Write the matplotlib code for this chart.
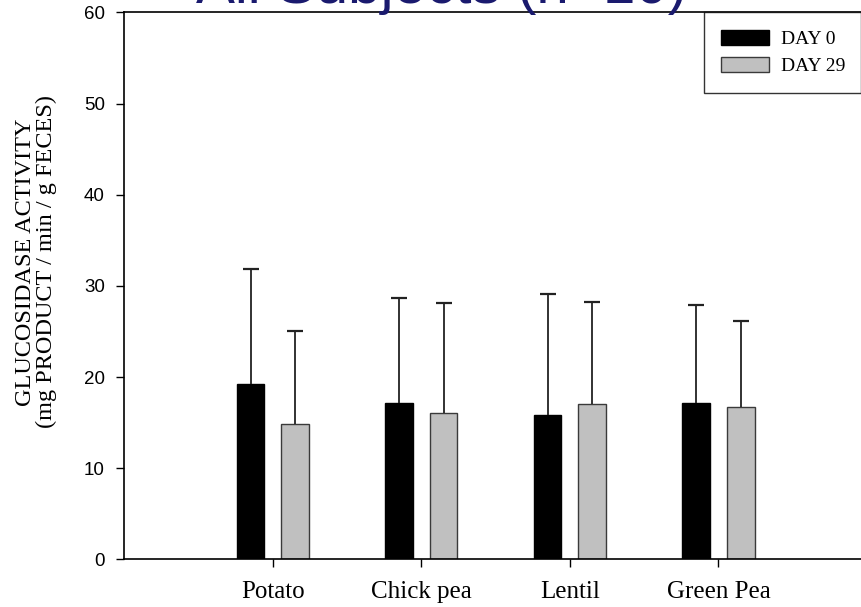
import numpy as np
import matplotlib
matplotlib.use("Agg")
import matplotlib.pyplot as plt

# data
foods = ['Potato', 'Chick pea', 'Lentil', 'Green Pea']
day0 = [19.2, 17.2, 15.8, 17.2]
day0_err = [12.6, 11.5, 13.3, 10.7]
day29 = [14.9, 16.1, 17.1, 16.7]
day29_err = [10.2, 12.0, 11.1, 9.4]

fig = plt.figure(figsize=(8.62, 6.07), dpi=100)
ax = fig.add_axes([0.1442, 0.0783, 0.8616, 0.9014])

x = np.arange(1, len(foods) + 1)
w = 0.186
off = 0.15
ekw = dict(ecolor='#222222', elinewidth=1.3, capthick=1.6)

b0 = ax.bar(x - off, day0, w, color='black', edgecolor='black', linewidth=1,
            yerr=[np.zeros(len(day0)), day0_err], capsize=6, error_kw=ekw,
            label='DAY 0', zorder=2)
b1 = ax.bar(x + off, day29, w, color='#c0c0c0', edgecolor='#3a3a3a', linewidth=1,
            yerr=[np.zeros(len(day29)), day29_err], capsize=6, error_kw=ekw,
            label='DAY 29', zorder=2)

# only the upper whisker is drawn, hide the lower caps
for b in (b0, b1):
    caps = b.errorbar.lines[1]
    caps[0].set_visible(False)

ax.set_xlim(0, 5)
ax.set_ylim(0, 60)
ax.set_xticks(x)
ax.set_xticklabels(foods, fontfamily='Liberation Serif', fontsize=18)
ax.set_yticks(np.arange(0, 61, 10))
ax.tick_params(axis='y', labelsize=13.5, length=6, width=1, pad=8)
ax.tick_params(axis='x', length=5.5, width=1, pad=10)
for t in ax.get_yticklabels():
    t.set_fontfamily('Liberation Sans')

ax.spines['right'].set_visible(False)
for s in ['left', 'bottom', 'top']:
    ax.spines[s].set_linewidth(1.2)

fig.text(36 / 862, 1 - 262 / 607,
         'GLUCOSIDASE ACTIVITY\n(mg PRODUCT / min / g FECES)',
         rotation=90, ha='center', va='center', multialignment='center',
         fontfamily='Liberation Serif', fontsize=17.5, linespacing=0.95)

# title is clipped at the top edge in the original
fig.text(441.5 / 862, 1 - 3 / 607, 'All Subjects (n=10)',
         ha='center', va='baseline', fontfamily='Liberation Sans',
         fontsize=42, color='#1a1a6e')

leg = ax.legend(loc='upper left', mode='expand',
                bbox_to_anchor=(704 / 862, 1 - 92 / 607, 157 / 862, 80 / 607),
                bbox_transform=fig.transFigure,
                prop={'family': 'Liberation Serif', 'size': 14},
                frameon=True, fancybox=False, borderpad=0.9,
                labelspacing=0.45, handlelength=2.42, handleheight=0.85,
                handletextpad=0.62, borderaxespad=0)
leg.get_frame().set_edgecolor('black')
leg.get_frame().set_linewidth(1)

fig.savefig('out.png', dpi=100)
